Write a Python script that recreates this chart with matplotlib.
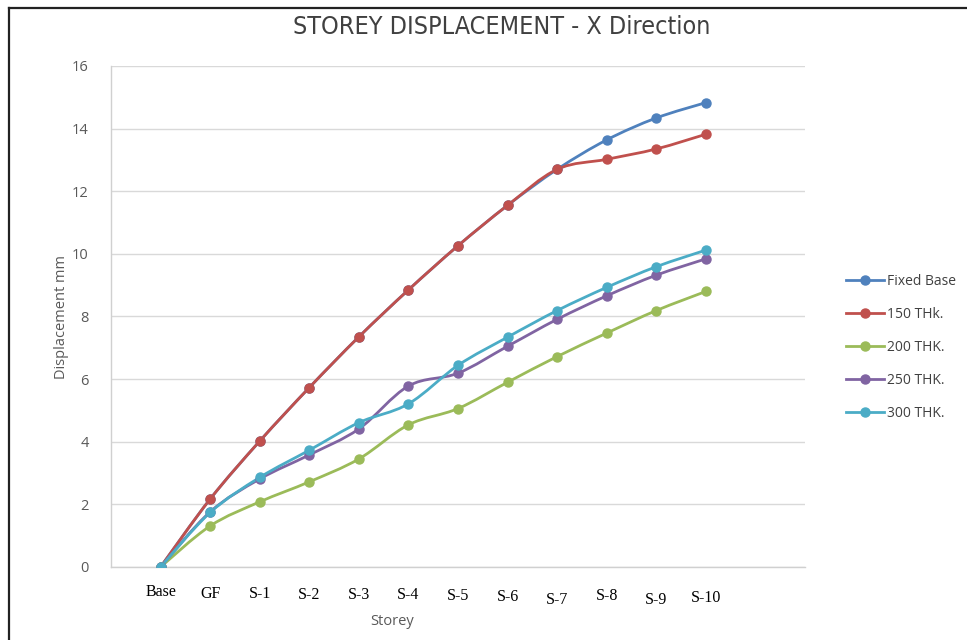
import matplotlib
matplotlib.use("Agg")
import matplotlib.pyplot as plt
from matplotlib.path import Path
from matplotlib.patches import PathPatch
from matplotlib.lines import Line2D
import matplotlib.transforms as mtransforms
import numpy as np

storeys = ["Base", "GF", "S-1", "S-2", "S-3", "S-4", "S-5", "S-6",
           "S-7", "S-8", "S-9", "S-10"]

fixed_base = [0, 2.17, 4.02, 5.73, 7.35, 8.85, 10.26, 11.55, 12.70, 13.64, 14.34, 14.83]
thk_150 = [0, 2.17, 4.02, 5.73, 7.35, 8.85, 10.26, 11.55, 12.70, 13.02, 13.35, 13.82]
thk_200 = [0, 1.31, 2.08, 2.72, 3.45, 4.54, 5.06, 5.90, 6.72, 7.47, 8.19, 8.80]
thk_250 = [0, 1.76, 2.81, 3.58, 4.41, 5.78, 6.19, 7.05, 7.91, 8.66, 9.32, 9.84]
thk_300 = [0, 1.74, 2.86, 3.73, 4.61, 5.21, 6.44, 7.34, 8.19, 8.93, 9.59, 10.12]

series_names = ["Fixed Base", "150 THk.", "200 THK.", "250 THK.", "300 THK."]
series_values = [fixed_base, thk_150, thk_200, thk_250, thk_300]
colors = ["#4F81BD", "#C0504D", "#9BBB59", "#8064A2", "#4BACC6"]

y_ticks = [0, 2, 4, 6, 8, 10, 12, 14, 16]


def smooth_path(x, y):
    """Catmull-Rom style cubic Bezier through every point."""
    pts = np.column_stack([x, y]).astype(float)
    n = len(pts)
    verts = [pts[0]]
    codes = [Path.MOVETO]
    for i in range(n - 1):
        p0 = pts[i - 1] if i > 0 else pts[i]
        p1 = pts[i]
        p2 = pts[i + 1]
        p3 = pts[i + 2] if i + 2 < n else pts[i + 1]
        c1 = p1 + (p2 - p0) / 6.0
        c2 = p2 - (p3 - p1) / 6.0
        verts += [c1, c2, p2]
        codes += [Path.CURVE4] * 3
    return Path(verts, codes)


fig = plt.figure(figsize=(9.67, 6.4), dpi=100)
ax = fig.add_axes([0.1148, 0.1141, 0.8325 - 0.1148, 0.8969 - 0.1141])

x = np.arange(len(storeys))
for name, vals, col in zip(series_names, series_values, colors):
    patch = PathPatch(smooth_path(x, vals), facecolor="none", edgecolor=col,
                      lw=2.0, capstyle="round", joinstyle="round", zorder=3)
    ax.add_patch(patch)
    ax.plot(x, vals, "o", color=col, markersize=6.5, zorder=4)

ax.set_xlim(-1, 13)
ax.set_ylim(0, 16)
ax.set_yticks(y_ticks)
ax.set_yticklabels([str(v) for v in y_ticks], color="#595959",
                   fontsize=10.5, family="Open Sans")
ax.set_xticks(x)
ax.set_xticklabels(storeys, fontsize=11.5, family="Liberation Serif", color="black")
ax.tick_params(axis="both", length=0)
ax.tick_params(axis="y", pad=16)
ax.tick_params(axis="x", pad=12)

# slight vertical offsets of individual storey labels
label_shift = [0, -2, -2, -3, -3, -3, -4, -5, -8, -4, -8, -6]
for lbl, dy in zip(ax.get_xticklabels(), label_shift):
    lbl.set_transform(lbl.get_transform() +
                      mtransforms.ScaledTranslation(0, dy / 100.0, fig.dpi_scale_trans))

ax.grid(axis="y", color="#D9D9D9", lw=1.0)
ax.set_axisbelow(True)
for side in ["top", "right"]:
    ax.spines[side].set_visible(False)
for side in ["left", "bottom"]:
    ax.spines[side].set_color("#D0D0D0")
    ax.spines[side].set_linewidth(1.0)

fig.text(0.4054, 0.0295, "Storey", ha="center", va="center",
         fontsize=10.5, color="#595959", family="Open Sans")
fig.text(0.064, 0.505, "Displacement mm", ha="center", va="center",
         rotation=90, fontsize=10.5, color="#595959", family="Open Sans")

fig.text(0.5185, 0.958, "STOREY DISPLACEMENT - X Direction", ha="center",
         va="center", fontsize=18, color="#404040", family="DejaVu Sans",
         fontstretch="condensed")

handles = [Line2D([], [], color=c, lw=2.0, marker="o", markersize=6.5)
           for c in colors]
fig.legend(handles, series_names, loc="center left",
           bbox_to_anchor=(0.862, 0.457), frameon=False,
           handlelength=2.7, handletextpad=0.25, labelspacing=1.3,
           labelcolor="#404040", prop={"family": "Open Sans", "size": 10})

# outer frame of the chart area
fig.add_artist(Line2D([0.009, 0.009], [0.0, 0.988], color="#222222", lw=1.6,
                      transform=fig.transFigure))
fig.add_artist(Line2D([0.009, 1.0], [0.988, 0.988], color="#222222", lw=1.6,
                      transform=fig.transFigure))

fig.savefig("out.png", dpi=100, facecolor="white")
